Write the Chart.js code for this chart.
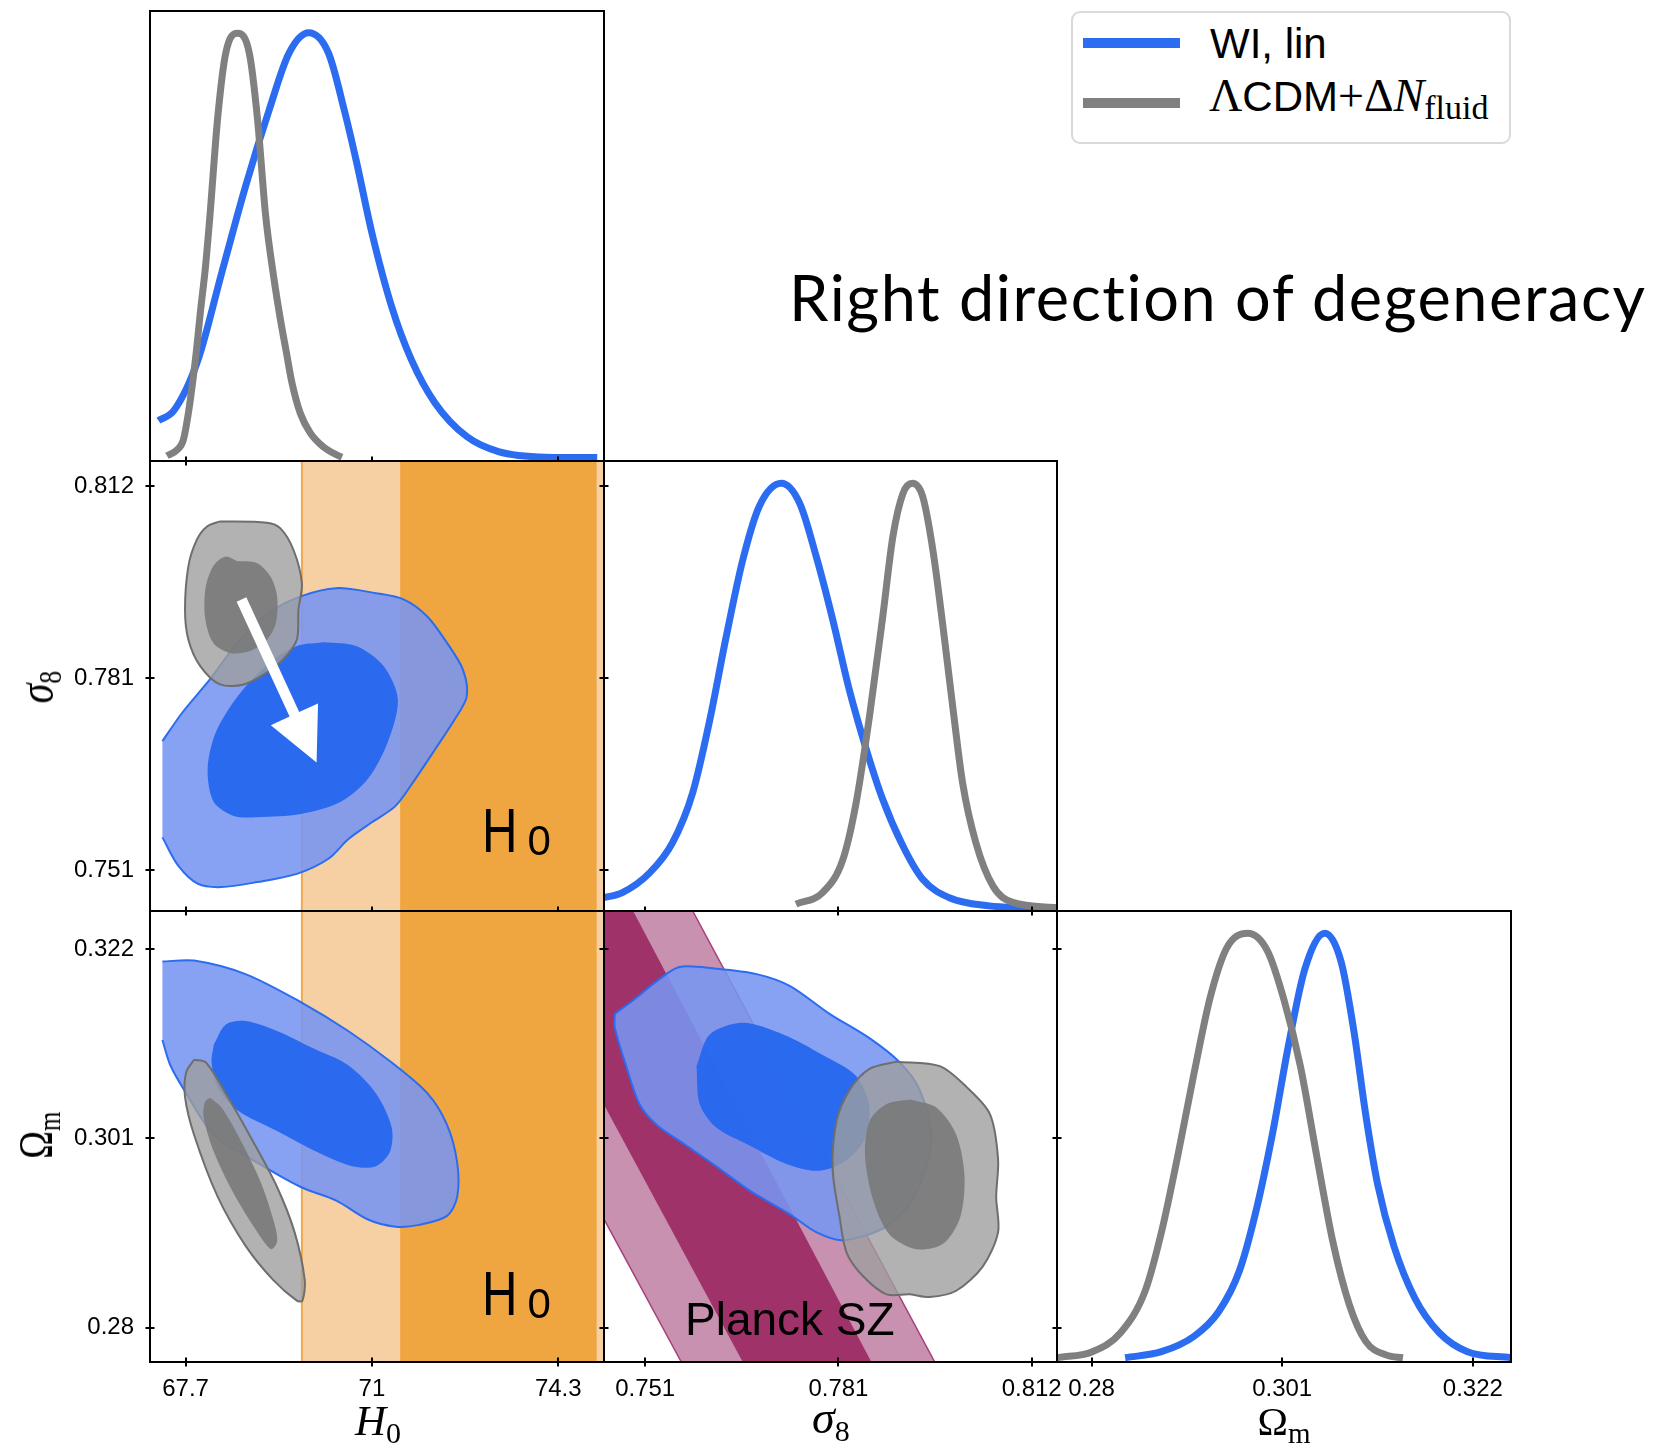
<!DOCTYPE html>
<html lang="en">
<head>
<meta charset="utf-8">
<title>Right direction of degeneracy</title>
<script src="https://cdn.jsdelivr.net/npm/chart.js@4.4.1/dist/chart.umd.min.js"></script>
<style>
    html, body { margin: 0; padding: 0; background: #fff; }
    #fig { position: relative; width: 1679px; height: 1443px; overflow: hidden; background: #fff; }
    #fig canvas { position: absolute; }
    .txt { position: absolute; left: 0; top: 0; white-space: nowrap; line-height: 1; color: #000; transform-origin: 0 0;
           font-variant-ligatures: none; }
    .bl { display: inline-block; width: 0; height: 0; vertical-align: baseline; }
    .serif { font-family: "Liberation Serif", "DejaVu Serif", serif; }
    #legend { position: absolute; left: 1071px; top: 11px; width: 440px; height: 133px; box-sizing: border-box;
              border: 2.5px solid #d9d9d9; border-radius: 9px; background: #fff; }
    .swatch { position: absolute; left: 1083px; width: 97px; height: 10px; }
</style>
</head>
<body>
<div id="fig"></div>
<script>
// Axis ranges and ticks
const H0_RANGE = [67.07, 75.11];
const S8_RANGE = [0.7443, 0.8158];
const OM_RANGE = [0.2762, 0.3262];
const PDF_RANGE = [0, 1.05];

const H0_TICKS = [67.7, 71.0, 74.3];
const H0_LABELS = ['67.7', '71', '74.3'];
const S8_TICKS = [0.7508, 0.7813, 0.8118];
const S8_LABELS = ['0.751', '0.781', '0.812'];
const OM_TICKS = [0.280, 0.301, 0.322];
const OM_LABELS = ['0.28', '0.301', '0.322'];

// 1D marginals, normalised to the peak: [value, P]
const wiH0 = [[67.22,0.094],[67.50,0.119],[67.92,0.236],[68.34,0.439],[68.76,0.640],[69.18,0.819],[69.53,0.951],
    [69.88,0.999],[70.23,0.952],[70.51,0.819],[70.72,0.702],[71.00,0.532],[71.35,0.360],[71.70,0.236],[72.12,0.135],
    [72.68,0.057],[73.24,0.022],[74.08,0.009],[74.99,0.008]];
const lcdmH0 = [[67.37,0.012],[67.55,0.026],[67.66,0.049],[67.75,0.112],[67.83,0.189],[67.90,0.267],[67.96,0.345],
    [68.05,0.450],[68.13,0.570],[68.27,0.803],[68.41,0.951],[68.62,0.998],[68.83,0.951],[68.97,0.803],[69.12,0.570],
    [69.26,0.430],[69.38,0.330],[69.49,0.250],[69.58,0.185],[69.73,0.112],[69.91,0.065],[70.14,0.033],[70.38,0.014],[70.47,0.009]];

const wiS8 = [[0.7442,0.031],[0.7472,0.043],[0.7515,0.089],[0.7551,0.159],[0.7583,0.276],[0.7609,0.439],[0.7636,0.641],
    [0.7662,0.819],[0.7688,0.944],[0.7723,0.998],[0.7752,0.951],[0.7778,0.827],[0.7804,0.680],[0.7830,0.517],[0.7857,0.377],
    [0.7883,0.260],[0.7915,0.151],[0.7946,0.074],[0.7988,0.031],[0.8051,0.012],[0.8104,0.008],[0.8158,0.006]];
const lcdmS8 = [[0.7746,0.016],[0.7788,0.043],[0.7820,0.120],[0.7841,0.253],[0.7862,0.454],[0.7883,0.687],[0.7899,0.874],
    [0.7915,0.975],[0.7930,0.998],[0.7946,0.967],[0.7962,0.843],[0.7978,0.664],[0.7994,0.470],[0.8009,0.299],[0.8030,0.159],
    [0.8057,0.058],[0.8088,0.020],[0.8158,0.008]];

const wiOm = [[0.2837,0.010],[0.2877,0.024],[0.2913,0.060],[0.2940,0.117],[0.2963,0.213],[0.2981,0.350],[0.2999,0.528],
    [0.3017,0.738],[0.3035,0.915],[0.3057,0.998],[0.3075,0.931],[0.3089,0.770],[0.3102,0.576],[0.3115,0.415],[0.3133,0.270],
    [0.3156,0.149],[0.3183,0.068],[0.3214,0.024],[0.3262,0.010]];
const lcdmOm = [[0.2762,0.010],[0.2801,0.024],[0.2832,0.068],[0.2859,0.165],[0.2877,0.302],[0.2895,0.480],[0.2913,0.673],
    [0.2931,0.851],[0.2949,0.964],[0.2972,0.998],[0.2994,0.956],[0.3012,0.843],[0.3030,0.689],[0.3048,0.480],[0.3066,0.278],
    [0.3084,0.133],[0.3102,0.048],[0.3125,0.016],[0.3143,0.010]];

// 2D contours (68% / 95%): [x, y] along the boundary
const wiS8H0_95 = [[67.29,0.7713],[67.64,0.7758],[68.13,0.7811],[68.62,0.7869],[69.18,0.7917],[69.74,0.7943],[70.37,0.7956],
    [71.07,0.7948],[71.56,0.7938],[71.98,0.7911],[72.33,0.7869],[72.61,0.7827],[72.68,0.7784],[72.47,0.7748],[72.12,0.7700],
    [71.77,0.7653],[71.42,0.7610],[71.00,0.7584],[70.58,0.7557],[70.23,0.7526],[69.67,0.7502],[68.97,0.7489],[68.34,0.7481],
    [67.92,0.7486],[67.57,0.7515],[67.29,0.7560]];
const wiS8H0_68 = [[70.16,0.7870],[70.72,0.7864],[71.21,0.7832],[71.46,0.7779],[71.28,0.7711],[70.93,0.7653],[70.44,0.7616],
    [69.74,0.7597],[68.97,0.7592],[68.55,0.7594],[68.20,0.7616],[68.09,0.7668],[68.23,0.7726],[68.62,0.7784],[69.18,0.7837],[69.67,0.7864]];
const lcdmS8H0_95 = [[68.31,0.8062],[69.14,0.8060],[69.38,0.8051],[69.61,0.8017],[69.76,0.7964],[69.70,0.7922],[69.67,0.7874],
    [69.43,0.7843],[69.14,0.7822],[68.73,0.7803],[68.31,0.7803],[67.96,0.7832],[67.75,0.7874],[67.69,0.7922],[67.75,0.7991],
    [67.90,0.8033],[68.08,0.8054]];
const lcdmS8H0_68 = [[68.61,0.7999],[68.96,0.7996],[69.20,0.7975],[69.32,0.7944],[69.30,0.7901],[69.14,0.7874],[68.84,0.7856],
    [68.49,0.7853],[68.19,0.7869],[68.05,0.7906],[68.05,0.7954],[68.19,0.7991],[68.40,0.8006]];

const wiOmH0_95 = [[67.29,0.3206],[67.85,0.3207],[68.76,0.3192],[69.74,0.3161],[70.58,0.3129],[71.35,0.3094],[71.98,0.3060],
    [72.33,0.3025],[72.51,0.2983],[72.51,0.2945],[72.33,0.2924],[71.84,0.2914],[71.42,0.2912],[70.93,0.2920],[70.37,0.2941],
    [69.74,0.2956],[68.97,0.2983],[68.20,0.3014],[67.71,0.3060],[67.43,0.3091],[67.29,0.3119]];
const wiOmH0_68 = [[68.20,0.3114],[68.41,0.3136],[68.76,0.3140],[69.32,0.3129],[69.95,0.3110],[70.58,0.3091],[71.07,0.3060],
    [71.35,0.3022],[71.32,0.2995],[71.07,0.2979],[70.65,0.2979],[70.02,0.2995],[69.32,0.3018],[68.62,0.3041],[68.27,0.3067],[68.16,0.3094]];
const lcdmOmH0_95 = [[67.85,0.3097],[68.06,0.3094],[68.41,0.3060],[68.90,0.3006],[69.32,0.2956],[69.63,0.2906],[69.81,0.2853],
    [69.77,0.2830],[69.67,0.2830],[69.25,0.2853],[68.76,0.2891],[68.27,0.2945],[67.85,0.3014],[67.69,0.3056],[67.71,0.3083]];
const lcdmOmH0_68 = [[68.13,0.3055],[68.34,0.3044],[68.69,0.3006],[69.04,0.2960],[69.28,0.2914],[69.32,0.2895],[69.21,0.2887],
    [68.97,0.2906],[68.55,0.2949],[68.20,0.2995],[68.02,0.3033],[68.04,0.3050]];

const wiOmS8_95 = [[0.7460,0.3148],[0.7489,0.3163],[0.7526,0.3184],[0.7562,0.3200],[0.7620,0.3198],[0.7684,0.3192],[0.7736,0.3179],
    [0.7799,0.3148],[0.7862,0.3121],[0.7910,0.3094],[0.7941,0.3064],[0.7960,0.3014],[0.7952,0.2979],[0.7926,0.2937],[0.7883,0.2910],
    [0.7820,0.2897],[0.7778,0.2906],[0.7736,0.2926],[0.7673,0.2952],[0.7620,0.2979],[0.7573,0.3002],[0.7526,0.3025],[0.7499,0.3048],
    [0.7478,0.3090],[0.7460,0.3133]];
const wiOmS8_68 = [[0.7589,0.3090],[0.7610,0.3125],[0.7662,0.3138],[0.7726,0.3125],[0.7789,0.3102],[0.7841,0.3079],[0.7862,0.3044],
    [0.7852,0.3006],[0.7820,0.2983],[0.7778,0.2974],[0.7726,0.2983],[0.7673,0.3002],[0.7620,0.3022],[0.7594,0.3048]];
const lcdmOmS8_95 = [[0.7905,0.3095],[0.7973,0.3090],[0.8015,0.3067],[0.8052,0.3037],[0.8065,0.2987],[0.8062,0.2945],[0.8065,0.2906],
    [0.8041,0.2868],[0.7999,0.2841],[0.7957,0.2834],[0.7926,0.2837],[0.7889,0.2837],[0.7852,0.2857],[0.7826,0.2883],[0.7815,0.2922],
    [0.7804,0.2975],[0.7810,0.3029],[0.7831,0.3064],[0.7862,0.3087]];
const lcdmOmS8_68 = [[0.7926,0.3053],[0.7968,0.3044],[0.7999,0.3014],[0.8012,0.2968],[0.8005,0.2922],[0.7978,0.2893],[0.7936,0.2887],
    [0.7894,0.2903],[0.7868,0.2941],[0.7855,0.2991],[0.7862,0.3029],[0.7889,0.3048]];

// External priors: local H0 (1 and 2 sigma) and the Planck SZ band in (sigma8, Om)
const H0_LOCAL_1S = [71.50, 74.98];
const H0_LOCAL_2S = [69.76, 76.72];
const planckSZ_2s = [[0.7180,0.3262],[0.7583,0.3262],[0.7965,0.2762],[0.7565,0.2762]];
const planckSZ_1s = [[0.7278,0.3262],[0.7489,0.3262],[0.7865,0.2762],[0.7662,0.2762]];

// shift of the (H0, sigma8) contour
const shiftArrow = [[68.69, 0.7938], [70.02, 0.7679]];

const SERIES = ['WI, lin', 'ΛCDM+ΔN_fluid'];

// colours
const BLUE = '#2b6cf0';
const BLUE_95 = 'rgba(119,149,241,0.88)';
const BLUE_68 = 'rgba(38,103,238,0.95)';
const GREY = '#808080';
const GREY_95 = 'rgba(159,159,159,0.8)';
const GREY_68 = 'rgba(119,119,119,0.85)';
const GREY_EDGE = '#6e6e6e';
const ORANGE_2S = '#f6cfa3';
const ORANGE_1S = '#efa641';
const ORANGE_EDGE = '#f0a94e';
const SZ_2S = '#c791af';
const SZ_1S = '#a0326a';
const SZ_EDGE = '#a8407a';

const fig = document.getElementById('fig');
const COL_X = [150, 604, 1057];
const ROW_Y = [11, 461, 911];
const CELL_W = [454, 453, 454];
const CELL_H = [450, 450, 451];
const PAD = {l: 110, r: 40, t: 50, b: 70};
const TICK_FONT = {family: '"Liberation Sans", Arial, sans-serif', size: 24};

function xy(pts) {
    return pts.map(([x, y]) => ({x, y}));
}

function curve(pts, color) {
    return {data: xy(pts), showLine: true, fill: false, borderColor: color, borderWidth: 7,
        pointRadius: 0, cubicInterpolationMode: 'monotone', borderCapStyle: 'butt'};
}

function contour(pts, fill, edge, closed = true) {
    const data = xy(pts);
    if (closed) data.push({...data[0]});
    return {data, showLine: true, fill: 'shape', backgroundColor: fill,
        borderColor: edge || 'rgba(0,0,0,0)', borderWidth: edge ? 2 : 0, pointRadius: 0, tension: 0.3};
}

function polygon(pts, fill, edge) {
    const data = xy(pts);
    data.push({...data[0]});
    return {data, showLine: true, fill: 'shape', backgroundColor: fill,
        borderColor: edge || 'rgba(0,0,0,0)', borderWidth: edge ? 1.5 : 0, pointRadius: 0, tension: 0};
}

// vertical band spanning the full y range of a panel
function vband(span, yRange, fill, edge) {
    const [a, b] = span, [lo, hi] = yRange;
    return {data: [{x: a, y: lo}, {x: b, y: lo}, {x: b, y: hi}, {x: a, y: hi}, {x: a, y: lo}],
        showLine: true, fill: 'shape', backgroundColor: fill, borderColor: edge || 'rgba(0,0,0,0)',
        borderWidth: edge ? 2 : 0, pointRadius: 0, tension: 0};
}

function axisOptions(ax, dir) {
    return {
        type: 'linear',
        position: dir === 'x' ? 'bottom' : 'left',
        min: ax.range[0], max: ax.range[1], bounds: 'data',
        afterBuildTicks: s => { s.ticks = (ax.ticks || []).map(v => ({value: v})); },
        afterFit: s => { if (dir === 'x') s.height = PAD.b; else s.width = PAD.l; },
        grid: {display: false, drawTicks: false},
        border: {display: false},
        ticks: {
            display: !!ax.labels, autoSkip: false, maxRotation: 0, minRotation: 0,
            padding: dir === 'x' ? 13 : 16, color: '#000', font: TICK_FONT,
            callback: (v, i) => ax.labels ? ax.labels[i] : ''
        }
    };
}

function drawArrow(chart, [[x0, y0], [x1, y1]]) {
    const {ctx, scales} = chart;
    const p0 = {x: scales.x.getPixelForValue(x0), y: scales.y.getPixelForValue(y0)};
    const p1 = {x: scales.x.getPixelForValue(x1), y: scales.y.getPixelForValue(y1)};
    const len = Math.hypot(p1.x - p0.x, p1.y - p0.y);
    const ux = (p1.x - p0.x) / len, uy = (p1.y - p0.y) / len;
    const nx = -uy, ny = ux;
    const headLen = 53, headHalf = 26, shaftHalf = 5.3;
    const bx = p1.x - ux * headLen, by = p1.y - uy * headLen;
    ctx.save();
    ctx.beginPath();
    ctx.moveTo(p0.x + nx * shaftHalf, p0.y + ny * shaftHalf);
    ctx.lineTo(bx + nx * shaftHalf, by + ny * shaftHalf);
    ctx.lineTo(bx + nx * headHalf, by + ny * headHalf);
    ctx.lineTo(p1.x, p1.y);
    ctx.lineTo(bx - nx * headHalf, by - ny * headHalf);
    ctx.lineTo(bx - nx * shaftHalf, by - ny * shaftHalf);
    ctx.lineTo(p0.x - nx * shaftHalf, p0.y - ny * shaftHalf);
    ctx.closePath();
    ctx.fillStyle = '#fff';
    ctx.fill();
    ctx.restore();
}

function makePanel(o) {
    const w = CELL_W[o.col], h = CELL_H[o.row];
    const cw = PAD.l + w + PAD.r, ch = PAD.t + h + PAD.b;
    const canvas = document.createElement('canvas');
    canvas.width = cw;
    canvas.height = ch;
    Object.assign(canvas.style, {
        left: (COL_X[o.col] - PAD.l) + 'px', top: (ROW_Y[o.row] - PAD.t) + 'px',
        width: cw + 'px', height: ch + 'px'
    });
    fig.appendChild(canvas);

    // first dataset in the list is drawn at the bottom
    const n = o.datasets.length;
    o.datasets.forEach((d, i) => { d.order = n - i; });

    const scales = {x: axisOptions(o.x, 'x'), y: axisOptions(o.y, 'y')};
    if (o.yMarks) {
        scales.ym = {type: 'linear', position: 'left', display: false, min: o.yMarks.range[0], max: o.yMarks.range[1]};
    }

    // panel frame and in-out tick marks
    const frame = {
        id: 'frame',
        afterDatasetsDraw(chart) {
            if (o.arrow) drawArrow(chart, o.arrow);
        },
        afterDraw(chart) {
            const {ctx, chartArea: a, scales: s} = chart;
            ctx.save();
            ctx.strokeStyle = '#000';
            ctx.lineWidth = 2;
            ctx.strokeRect(a.left, a.top, a.right - a.left, a.bottom - a.top);
            ctx.beginPath();
            (o.x.ticks || []).forEach(v => {
                const px = Math.round(s.x.getPixelForValue(v));
                ctx.moveTo(px, a.bottom - 4.5);
                ctx.lineTo(px, a.bottom + 4.5);
            });
            const ys = o.yMarks ? s.ym : s.y;
            const yt = o.yMarks ? o.yMarks.ticks : (o.y.ticks || []);
            yt.forEach(v => {
                const py = Math.round(ys.getPixelForValue(v));
                ctx.moveTo(a.left - 4.5, py);
                ctx.lineTo(a.left + 4.5, py);
            });
            ctx.stroke();
            ctx.restore();
        }
    };

    return new Chart(canvas, {
        type: 'scatter',
        data: {datasets: o.datasets},
        options: {
            responsive: false,
            animation: false,
            devicePixelRatio: 1,
            events: [],
            layout: {padding: {top: PAD.t, right: PAD.r, left: 0, bottom: 0}},
            plugins: {legend: {display: false}, tooltip: {enabled: false}},
            scales
        },
        plugins: [frame]
    });
}

const ax = (range, ticks, labels) => ({range, ticks, labels});

// H0 marginal
makePanel({
    col: 0, row: 0, x: ax(H0_RANGE, H0_TICKS), y: ax(PDF_RANGE),
    datasets: [curve(wiH0, BLUE), curve(lcdmH0, GREY)]
});

// sigma8 vs H0
makePanel({
    col: 0, row: 1, x: ax(H0_RANGE, H0_TICKS), y: ax(S8_RANGE, S8_TICKS, S8_LABELS),
    datasets: [
        vband(H0_LOCAL_2S, S8_RANGE, ORANGE_2S, ORANGE_EDGE),
        vband(H0_LOCAL_1S, S8_RANGE, ORANGE_1S),
        contour(wiS8H0_95, BLUE_95, BLUE, false),
        contour(wiS8H0_68, BLUE_68),
        contour(lcdmS8H0_95, GREY_95, GREY_EDGE),
        contour(lcdmS8H0_68, GREY_68)
    ],
    arrow: shiftArrow
});

// sigma8 marginal
makePanel({
    col: 1, row: 1, x: ax(S8_RANGE, S8_TICKS), y: ax(PDF_RANGE),
    yMarks: {range: S8_RANGE, ticks: S8_TICKS},
    datasets: [curve(wiS8, BLUE), curve(lcdmS8, GREY)]
});

// Om vs H0
makePanel({
    col: 0, row: 2, x: ax(H0_RANGE, H0_TICKS, H0_LABELS), y: ax(OM_RANGE, OM_TICKS, OM_LABELS),
    datasets: [
        vband(H0_LOCAL_2S, OM_RANGE, ORANGE_2S, ORANGE_EDGE),
        vband(H0_LOCAL_1S, OM_RANGE, ORANGE_1S),
        contour(wiOmH0_95, BLUE_95, BLUE, false),
        contour(wiOmH0_68, BLUE_68),
        contour(lcdmOmH0_95, GREY_95, GREY_EDGE),
        contour(lcdmOmH0_68, GREY_68)
    ]
});

// Om vs sigma8
makePanel({
    col: 1, row: 2, x: ax(S8_RANGE, S8_TICKS, S8_LABELS), y: ax(OM_RANGE, OM_TICKS),
    datasets: [
        polygon(planckSZ_2s, SZ_2S, SZ_EDGE),
        polygon(planckSZ_1s, SZ_1S),
        contour(wiOmS8_95, BLUE_95, BLUE),
        contour(wiOmS8_68, BLUE_68),
        contour(lcdmOmS8_95, GREY_95, GREY_EDGE),
        contour(lcdmOmS8_68, GREY_68)
    ]
});

// Om marginal
makePanel({
    col: 2, row: 2, x: ax(OM_RANGE, OM_TICKS, OM_LABELS), y: ax(PDF_RANGE),
    yMarks: {range: OM_RANGE, ticks: OM_TICKS},
    datasets: [curve(wiOm, BLUE), curve(lcdmOm, GREY)]
});

// text placed by its baseline: (x, y) is the baseline point, align 'left' or 'center'
function putText(html, x, y, css, opts = {}) {
    const d = document.createElement('div');
    d.className = 'txt';
    Object.assign(d.style, css);
    d.innerHTML = html + '<span class="bl"></span>';
    fig.appendChild(d);
    const base = d.querySelector('.bl').offsetTop;
    const w = d.offsetWidth;
    const k = opts.align === 'center' ? 0.5 : 0;
    const rot = opts.rotate ? ' rotate(-90deg)' : '';
    const squeeze = opts.squeeze ? ` scale(${opts.squeeze}, 1)` : '';
    d.style.transform = `translate(${x}px, ${y}px)${rot}${squeeze} translate(${-k * w}px, ${-base}px)`;
    return d;
}

const SANS = '"Liberation Sans", Arial, sans-serif';
const SERIF = '"Liberation Serif", "DejaVu Serif", serif';
const sub = (t, size, drop) => `<span style="font-size:${size}px;position:relative;top:${drop}px;font-style:normal">${t}</span>`;

// title
putText('Right direction of degeneracy', 789, 321, {font: '400 63px Lato, "Open Sans", sans-serif', letterSpacing: '1.6px'});

// legend
const legend = document.createElement('div');
legend.id = 'legend';
fig.appendChild(legend);
[[BLUE, 38], [GREY, 98]].forEach(([c, top]) => {
    const s = document.createElement('div');
    s.className = 'swatch';
    s.style.background = c;
    s.style.top = top + 'px';
    fig.appendChild(s);
});
putText(SERIES[0], 1210, 58, {font: `42px ${SANS}`});
const [model, fluidSub] = SERIES[1].split('_');
putText(`<span class="serif" style="font-size:46px">Λ</span>${model.slice(1, 4)}<span class="serif" style="font-size:46px">+Δ<i>N</i></span>` +
    `<span class="serif">${sub(fluidSub, 34, 8)}</span>`, 1209, 111, {font: `42px ${SANS}`});

// axis labels
putText(`<i>H</i>${sub('0', 30, 8)}`, 378, 1435, {font: `43px ${SERIF}`}, {align: 'center'});
putText(`<i>σ</i>${sub('8', 30, 8)}`, 831, 1433, {font: `46px ${SERIF}`}, {align: 'center'});
putText(`Ω${sub('m', 29, 8)}`, 1284, 1435, {font: `41px ${SERIF}`}, {align: 'center'});
putText(`<i>σ</i>${sub('8', 32, 8)}`, 53, 687, {font: `50px ${SERIF}`}, {align: 'center', rotate: true, squeeze: 0.8});
putText(`Ω${sub('m', 32, 8)}`, 52, 1135, {font: `48px ${SERIF}`}, {align: 'center', rotate: true, squeeze: 0.78});

// in-panel labels
const h0Label = `<span style="display:inline-block;transform:scaleX(0.78);transform-origin:0 0">H</span>` +
    `<span style="font-size:42px;position:relative;top:3px">0</span>`;
putText(h0Label, 482, 852, {font: `63px ${SANS}`});
putText(h0Label, 482, 1315, {font: `63px ${SANS}`});
putText('Planck SZ', 685, 1335, {font: `46px ${SANS}`});
</script>
</body>
</html>
